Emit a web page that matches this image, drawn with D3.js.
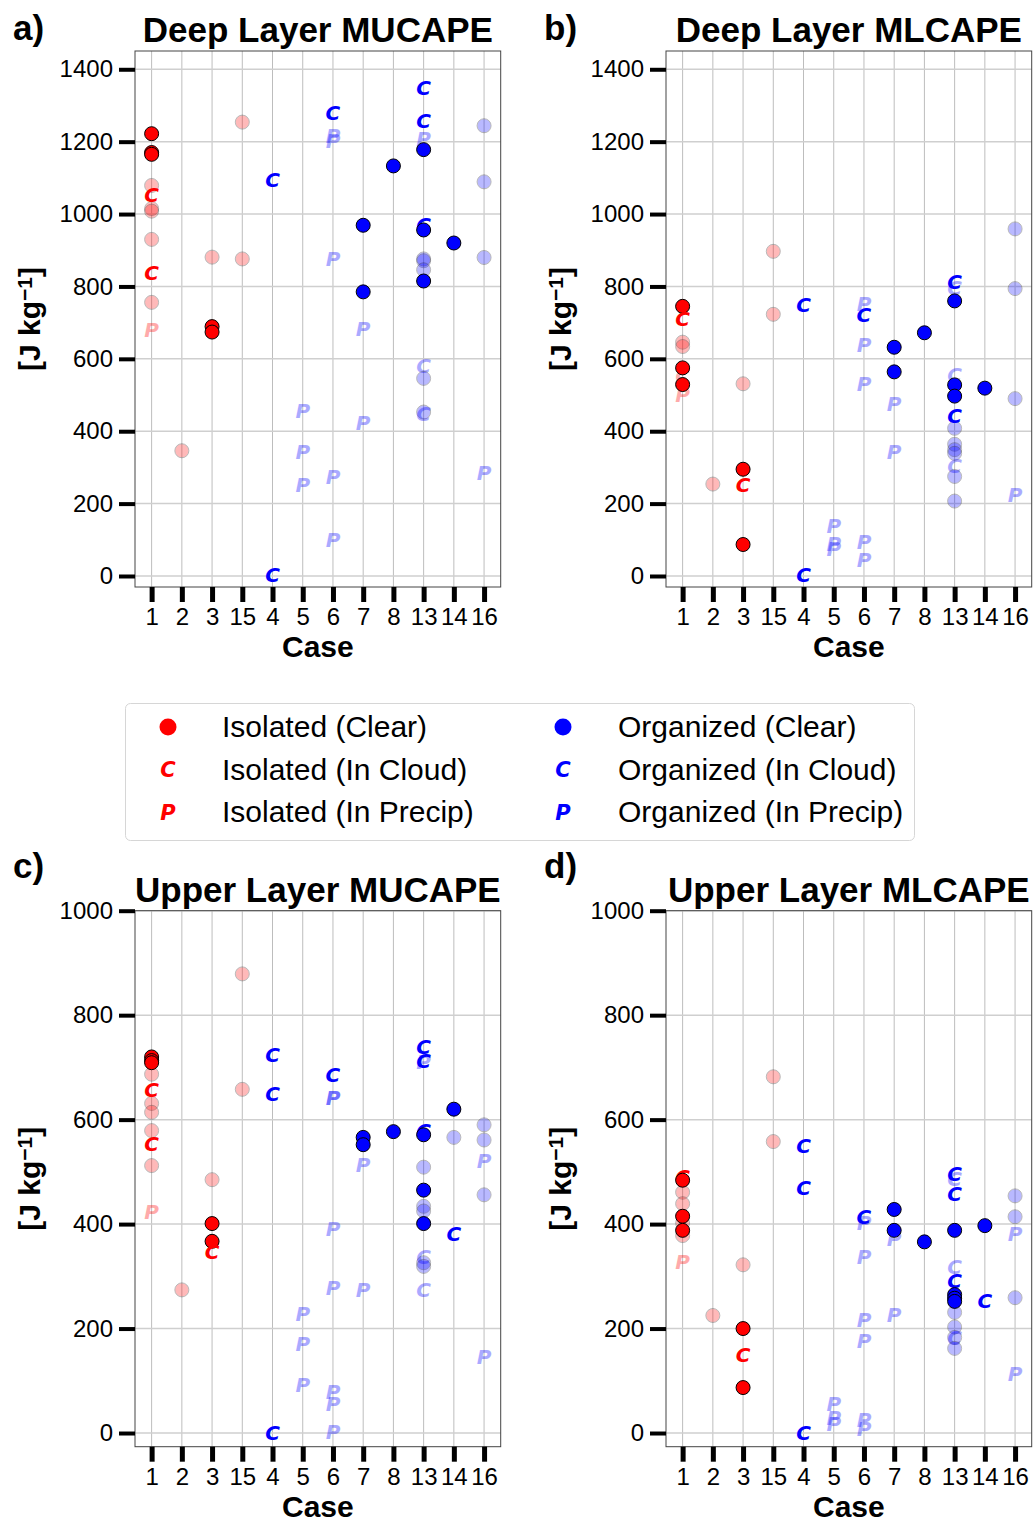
<!DOCTYPE html>
<html>
<head>
<meta charset="utf-8">
<script src="https://cdn.jsdelivr.net/npm/d3@7"></script>
<style>
  body { margin: 0; background: #fff; }
  svg { display: block; font-family: "Liberation Sans", Arial, sans-serif; }
</style>
</head>
<body>
<script>
// case order on the x axis
const cases = ["1", "2", "3", "15", "4", "5", "6", "7", "8", "13", "14", "16"];
const isolatedCases = ["1", "2", "3", "15"];

// rows: [case, CAPE J/kg, sample kind, selected(1) / faded(0)]
const deepMU = [
  ["1",1222,"clear",1],["1",1170,"clear",1],["1",1165,"clear",1],
  ["1",1079,"clear",0],["1",1015,"clear",0],["1",1008,"clear",0],["1",930,"clear",0],["1",756,"clear",0],
  ["1",1052,"cloud",1],["1",838,"cloud",1],["1",681,"precip",0],
  ["2",346,"clear",0],
  ["3",881,"clear",0],["3",689,"clear",1],["3",674,"clear",1],
  ["15",1254,"clear",0],["15",876,"clear",0],
  ["4",1095,"cloud",1],["4",3,"cloud",1],
  ["5",457,"precip",0],["5",344,"precip",0],["5",251,"precip",0],
  ["6",1279,"cloud",1],["6",1215,"precip",0],["6",1203,"precip",0],["6",876,"precip",0],["6",275,"precip",0],["6",101,"precip",0],
  ["7",969,"clear",1],["7",785,"clear",1],["7",684,"precip",0],["7",423,"precip",0],
  ["8",1133,"clear",1],
  ["13",1348,"cloud",1],["13",1259,"cloud",1],["13",1208,"precip",0],["13",1178,"clear",1],["13",969,"cloud",1],
  ["13",956,"clear",1],["13",876,"clear",0],["13",871,"clear",0],["13",846,"clear",0],["13",815,"clear",1],
  ["13",580,"cloud",0],["13",546,"clear",0],["13",453,"clear",0],["13",448,"cloud",0],
  ["14",920,"clear",1],
  ["16",1244,"clear",0],["16",1089,"clear",0],["16",880,"clear",0],["16",285,"precip",0]
];

const deepML = [
  ["1",745,"clear",1],["1",575,"clear",1],["1",529,"clear",1],["1",711,"cloud",1],
  ["1",646,"clear",0],["1",634,"clear",0],["1",553,"cloud",0],["1",502,"precip",0],
  ["2",254,"clear",0],
  ["3",531,"clear",0],["3",295,"clear",1],["3",251,"cloud",1],["3",87,"clear",1],
  ["15",897,"clear",0],["15",723,"clear",0],
  ["4",750,"cloud",1],["4",3,"cloud",1],
  ["5",140,"precip",0],["5",88,"precip",0],["5",74,"precip",0],
  ["6",752,"precip",0],["6",723,"cloud",1],["6",639,"precip",0],["6",531,"precip",0],["6",95,"precip",0],["6",44,"precip",0],
  ["7",632,"clear",1],["7",564,"clear",1],["7",477,"precip",0],["7",342,"precip",0],
  ["8",672,"clear",1],
  ["13",814,"cloud",1],["13",797,"cloud",0],["13",760,"clear",1],["13",556,"cloud",0],["13",528,"clear",1],
  ["13",497,"clear",1],["13",443,"cloud",1],["13",408,"clear",0],["13",364,"clear",0],["13",349,"clear",0],
  ["13",339,"clear",0],["13",305,"cloud",0],["13",275,"clear",0],["13",207,"clear",0],
  ["14",519,"clear",1],
  ["16",959,"clear",0],["16",794,"clear",0],["16",490,"clear",0],["16",223,"precip",0]
];

const upperMU = [
  ["1",720,"clear",1],["1",713,"clear",1],["1",709,"clear",1],["1",687,"clear",0],["1",658,"cloud",1],
  ["1",631,"clear",0],["1",614,"clear",0],["1",579,"clear",0],["1",554,"cloud",1],["1",512,"clear",0],["1",423,"precip",0],
  ["2",274,"clear",0],
  ["3",485,"clear",0],["3",401,"clear",1],["3",367,"clear",1],["3",347,"cloud",1],
  ["15",879,"clear",0],["15",658,"clear",0],
  ["4",725,"cloud",1],["4",649,"cloud",1],["4",1,"cloud",1],
  ["5",228,"precip",0],["5",170,"precip",0],["5",92,"precip",0],
  ["6",685,"cloud",1],["6",641,"precip",0],["6",641,"precip",0],["6",391,"precip",0],["6",278,"precip",0],
  ["6",78,"precip",0],["6",56,"precip",0],["6",2,"precip",0],
  ["7",566,"clear",1],["7",552,"clear",1],["7",514,"precip",0],["7",275,"precip",0],
  ["8",577,"clear",1],
  ["13",739,"cloud",1],["13",713,"cloud",1],["13",710,"precip",0],["13",579,"cloud",1],["13",571,"clear",1],
  ["13",509,"clear",0],["13",465,"clear",1],["13",434,"clear",0],["13",425,"clear",0],["13",401,"clear",1],
  ["13",337,"cloud",0],["13",326,"clear",0],["13",319,"clear",0],["13",275,"cloud",0],
  ["14",620,"clear",1],["14",566,"clear",0],["14",381,"cloud",1],
  ["16",590,"clear",0],["16",561,"clear",0],["16",521,"precip",0],["16",456,"clear",0],["16",146,"precip",0]
];

const upperML = [
  ["1",490,"cloud",1],["1",484,"clear",1],["1",461,"clear",0],["1",439,"clear",0],["1",415,"clear",1],
  ["1",402,"clear",0],["1",388,"clear",1],["1",378,"clear",0],["1",328,"precip",0],
  ["2",225,"clear",0],
  ["3",322,"clear",0],["3",200,"clear",1],["3",150,"cloud",1],["3",87,"clear",1],
  ["15",682,"clear",0],["15",558,"clear",0],
  ["4",549,"cloud",1],["4",470,"cloud",1],["4",0,"cloud",1],
  ["5",55,"precip",0],["5",29,"precip",0],["5",18,"precip",0],
  ["6",414,"cloud",1],["6",402,"precip",0],["6",337,"precip",0],["6",217,"precip",0],["6",176,"precip",0],
  ["6",25,"precip",0],["6",8,"precip",0],
  ["7",428,"clear",1],["7",388,"clear",1],["7",371,"precip",0],["7",227,"precip",0],
  ["8",366,"clear",1],
  ["13",497,"cloud",1],["13",487,"cloud",0],["13",458,"cloud",1],["13",388,"clear",1],["13",319,"cloud",0],
  ["13",292,"cloud",1],["13",265,"clear",1],["13",258,"clear",1],["13",252,"clear",1],["13",231,"clear",0],
  ["13",203,"clear",0],["13",183,"clear",0],["13",183,"cloud",0],["13",162,"clear",0],
  ["14",397,"clear",1],["14",254,"cloud",1],
  ["16",454,"clear",0],["16",414,"clear",0],["16",381,"precip",0],["16",259,"clear",0],["16",114,"precip",0]
];

const deepTicks = [0, 200, 400, 600, 800, 1000, 1200, 1400];
const upperTicks = [0, 200, 400, 600, 800, 1000];

const legendItems = [
  ["clear", "Isolated (Clear)", true], ["cloud", "Isolated (In Cloud)", true], ["precip", "Isolated (In Precip)", true],
  ["clear", "Organized (Clear)", false], ["cloud", "Organized (In Cloud)", false], ["precip", "Organized (In Precip)", false]
];

var width = 1034, height = 1523;
var svg = d3.select("body").append("svg")
  .attr("width", width)
  .attr("height", height);
svg.append("rect").attr("width", width).attr("height", height).attr("fill", "#fff");

var panels = [
  { tag: "a)", title: "Deep Layer MUCAPE", rows: deepMU, left: 135, top: 51, dom: [-30.4, 1450.5], ticks: deepTicks },
  { tag: "b)", title: "Deep Layer MLCAPE", rows: deepML, left: 666, top: 51, dom: [-30.4, 1450.5], ticks: deepTicks },
  { tag: "c)", title: "Upper Layer MUCAPE", rows: upperMU, left: 135, top: 910.7, dom: [-26.2, 1000], ticks: upperTicks },
  { tag: "d)", title: "Upper Layer MLCAPE", rows: upperML, left: 666, top: 910.7, dom: [-26.2, 1000], ticks: upperTicks }
];
var pw = 365.7, ph = 536;

function colorOf(c) { return isolatedCases.indexOf(c) >= 0 ? "#ff0000" : "#0000ff"; }

function drawMarker(g, kind, color, r, fs) {
  if (kind == "clear") {
    g.append("circle").attr("r", r).attr("fill", color).attr("stroke", "#000").attr("stroke-width", 1);
  } else {
    g.append("text")
      .attr("text-anchor", "middle")
      .attr("dy", "0.36em")
      .style("font-family", "'DejaVu Sans', sans-serif")
      .style("font-weight", "bold")
      .style("font-style", "italic")
      .style("font-size", fs + "px")
      .attr("fill", color)
      .text(kind == "cloud" ? "C" : "P");
  }
}

panels.forEach(function(p) {
  var x = d3.scalePoint().domain(cases).range([p.left, p.left + pw]).padding(0.55);
  var y = d3.scaleLinear().domain(p.dom).range([p.top + ph, p.top]);
  var bottom = p.top + ph;

  var grid = svg.append("g");
  grid.selectAll(".vg").data(cases).enter().append("line")
    .attr("x1", d => x(d)).attr("x2", d => x(d))
    .attr("y1", p.top).attr("y2", bottom)
    .attr("stroke", "#bdbdbd").attr("stroke-width", 1);
  grid.selectAll(".hg").data(p.ticks).enter().append("line")
    .attr("x1", p.left).attr("x2", p.left + pw)
    .attr("y1", d => y(d)).attr("y2", d => y(d))
    .attr("stroke", "#cfcfcf").attr("stroke-width", 1.5);

  // faded samples first, selected ones on top
  var rows = p.rows.filter(r => !r[3]).concat(p.rows.filter(r => r[3]));
  var pts = svg.append("g").selectAll("g").data(rows).enter().append("g")
    .attr("transform", d => "translate(" + x(d[0]) + "," + y(d[1]) + ")")
    .attr("opacity", d => d[3] ? 1 : (d[2] == "clear" ? 0.27 : 0.33));
  pts.each(function(d) { drawMarker(d3.select(this), d[2], colorOf(d[0]), 7, 20); });

  svg.append("rect")
    .attr("x", p.left).attr("y", p.top).attr("width", pw).attr("height", ph)
    .attr("fill", "none").attr("stroke", "#444").attr("stroke-width", 1);

  var ax = svg.append("g").attr("transform", "translate(0," + bottom + ")")
    .call(d3.axisBottom(x).tickSize(15).tickPadding(6));
  ax.select(".domain").remove();
  ax.selectAll("line").attr("stroke", "#000").attr("stroke-width", 5);
  ax.selectAll("text").attr("fill", "#000").style("font-size", "24px")
    .style("font-family", "'Liberation Sans', Arial, sans-serif");

  var ay = svg.append("g").attr("transform", "translate(" + p.left + ",0)")
    .call(d3.axisLeft(y).tickValues(p.ticks).tickFormat(d3.format("d")).tickSize(16).tickPadding(6));
  ay.select(".domain").remove();
  ay.selectAll("line").attr("stroke", "#000").attr("stroke-width", 4);
  ay.selectAll("text").attr("fill", "#000").style("font-size", "24px")
    .style("font-family", "'Liberation Sans', Arial, sans-serif");

  svg.append("text")
    .attr("x", p.left + pw / 2).attr("y", p.top - 9)
    .attr("text-anchor", "middle")
    .style("font-size", "35px").style("font-weight", "bold")
    .text(p.title);

  svg.append("text")
    .attr("x", p.left - 122).attr("y", p.top - (p.top > 500 ? 33 : 11))
    .style("font-size", "35px").style("font-weight", "bold")
    .text(p.tag);

  svg.append("text")
    .attr("x", p.left + pw / 2).attr("y", bottom + 70)
    .attr("text-anchor", "middle")
    .style("font-size", "30px").style("font-weight", "bold")
    .text("Case");

  var yl = svg.append("text")
    .attr("transform", "translate(" + (p.left - 95) + "," + (p.top + ph / 2) + ") rotate(-90)")
    .attr("text-anchor", "middle")
    .style("font-size", "30px").style("font-weight", "bold");
  yl.append("tspan").text("[J kg");
  yl.append("tspan").attr("baseline-shift", "40%").style("font-size", "21px").text("\u22121");
  yl.append("tspan").text("]");
});

// legend
var lg = svg.append("g");
lg.append("rect")
  .attr("x", 125.5).attr("y", 703.5).attr("width", 789).attr("height", 137)
  .attr("rx", 5).attr("fill", "#fff").attr("stroke", "#d6d6d6").attr("stroke-width", 1);
legendItems.forEach(function(it, i) {
  var col = i < 3 ? 0 : 1, row = i % 3;
  var cx = col ? 563 : 168, tx = col ? 618 : 222, cy = 727 + row * 42.5;
  var color = it[2] ? "#ff0000" : "#0000ff";
  var m = lg.append("g").attr("transform", "translate(" + cx + "," + cy + ")");
  if (it[0] == "clear") m.append("circle").attr("r", 8.5).attr("fill", color);
  else drawMarker(m, it[0], color, 8, 21);
  lg.append("text").attr("x", tx).attr("y", cy + 10)
    .style("font-size", "30px").attr("fill", "#000").text(it[1]);
});
</script>
</body>
</html>
